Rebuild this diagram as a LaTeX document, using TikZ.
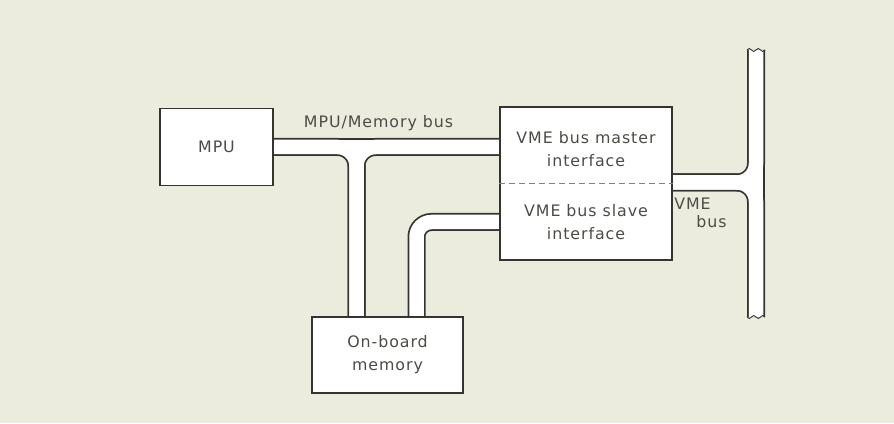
\documentclass[tikz,border=0pt]{standalone}
\usepackage{fontspec}
\setmainfont{DejaVu Sans}[LetterSpace=6]
\usetikzlibrary{positioning, calc}
\definecolor{myPaper}{HTML}{ECECDE}
\definecolor{myInk}{HTML}{35352F}
\definecolor{myText}{HTML}{4C4C46}

\begin{document}
\begin{tikzpicture}[
  box/.style={draw=myInk, line width=1.1pt, fill=white,
              font=\fontsize{9}{13}\selectfont, text=myText, align=center},
  lbl/.style={font=\fontsize{9}{13}\selectfont, text=myText, inner sep=1pt},
  busedge/.style={line width=0.36cm, myInk},
  busfill/.style={line width=0.29cm, white},
  brk/.style={myInk, line width=0.5pt}
]
\fill[myPaper] (0,0) rectangle (17.88,8.46);
\useasboundingbox (0,0) rectangle (17.88,8.46);

\coordinate (mpupos) at (4.33,5.52);
\coordinate (mempos) at (7.75,1.36);
\coordinate (vmepos) at (11.72,4.79);
\coordinate (tee) at (7.13,5.52);
\coordinate (bend) at (8.33,4.02);
\coordinate (bartop) at (15.12,7.46);
\coordinate (barbot) at (15.12,2.12);
\coordinate (join) at (15.12,4.81);
\coordinate (mpueast) at (5.46,5.52);
\coordinate (memnorth) at (7.75,2.12);
\coordinate (vmewest) at (10.0,4.79);
\coordinate (vmeeast) at (13.44,4.79);

% buses: dark outline pass, then white pass
\foreach \sty in {busedge, busfill} {
  \draw[\sty] (mpueast) -- (vmewest |- tee);
  \draw[\sty, rounded corners=0.38cm] (mpueast) -- (tee) -- (tee |- memnorth);
  \draw[\sty, rounded corners=0.38cm] (vmewest |- tee) -- (tee) -- (tee |- memnorth);
  \draw[\sty, rounded corners=0.3cm] (vmewest |- bend) -- (bend) -- (bend |- memnorth);
  \draw[\sty] (bartop) -- (barbot);
  \draw[\sty, rounded corners=0.38cm] (vmeeast |- join) -- (join) -- (bartop);
  \draw[\sty, rounded corners=0.38cm] (vmeeast |- join) -- (join) -- (barbot);
}
\draw[brk] ($(bartop)+(-0.18,0)$) sin ++(0.045,0.03) cos ++(0.045,-0.03) sin ++(0.045,-0.03) cos ++(0.045,0.03)
  sin ++(0.045,0.03) cos ++(0.045,-0.03) sin ++(0.045,-0.03) cos ++(0.045,0.03);
\draw[brk] ($(barbot)+(-0.18,0)$) sin ++(0.045,-0.03) cos ++(0.045,0.03) sin ++(0.045,0.03) cos ++(0.045,-0.03)
  sin ++(0.045,-0.03) cos ++(0.045,0.03) sin ++(0.045,0.03) cos ++(0.045,-0.03);

% boxes drawn over the bus ends
\node[box, minimum width=2.26cm, minimum height=1.54cm] (mpu) at (mpupos) {MPU};
\node[box, minimum width=3.02cm, minimum height=1.52cm] (mem) at (mempos) {On-board\\memory};
\node[box, minimum width=3.44cm, minimum height=3.06cm] (vme) at (vmepos) {};
\draw[myText!70, line width=0.6pt, dash pattern=on 0.12cm off 0.08cm] (vme.west) -- (vme.east);
\node[lbl, align=center] (master) at (11.72,5.48) {VME bus master\\interface};
\node[lbl, align=center] (slave) at (11.72,4.01) {VME bus slave\\interface};

\node[lbl] (memlbl) at (7.57,6.0) {MPU/Memory bus};
\node[lbl] (vmelbl) at (13.85,4.38) {VME};
\node[lbl] (buslbl) at (14.23,4.02) {bus};
\end{tikzpicture}
\end{document}
